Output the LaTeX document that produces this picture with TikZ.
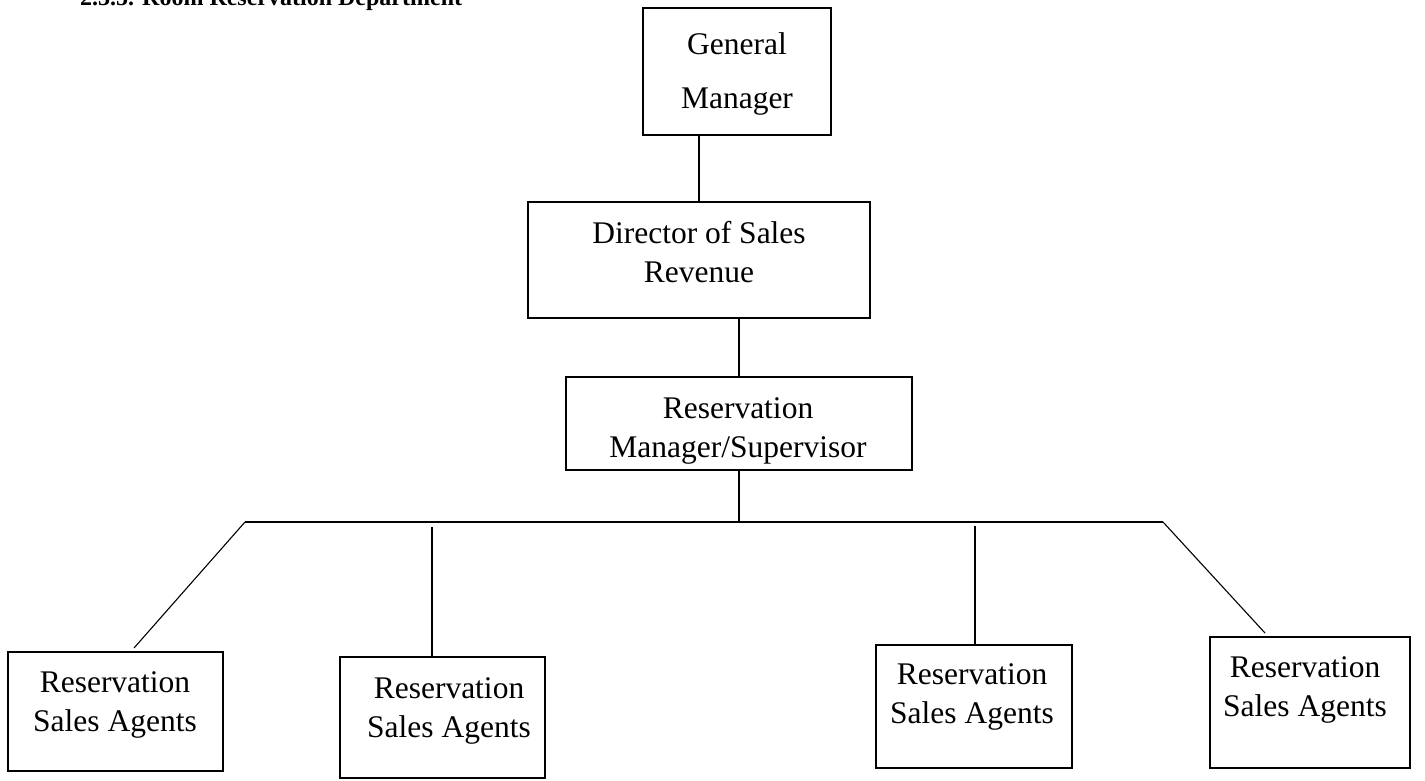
\documentclass[tikz,border=0pt]{standalone}
\usepackage{fontspec}
\setmainfont{Liberation Serif}
\begin{document}
\begin{tikzpicture}[x=1pt,y=-1pt,
  orgbox/.style={draw, line width=1.3pt, inner sep=0pt},
  link/.style={line width=1.1pt},
  caption/.style={font=\fontsize{31.5}{38.5}\selectfont, align=center, inner sep=0pt, anchor=base},
  heading/.style={font=\fontsize{24}{24}\selectfont\bfseries, inner sep=0pt, anchor=base west}]
\useasboundingbox (0,0) rectangle (1425,780);
\clip (0,0) rectangle (1425,780);
\fill[white] (0,0) rectangle (1425,780);

% section heading, running off the top edge
\node[heading] (title) at (80,5) {2.3.5. Room Reservation Department};

% boxes
\node[orgbox, minimum width=188pt, minimum height=127pt] (gm)  at (737,71.5) {};
\node[orgbox, minimum width=342pt, minimum height=116pt] (dir) at (699,260) {};
\node[orgbox, minimum width=346pt, minimum height=93pt]  (rm)  at (739,423.5) {};
\node[orgbox, minimum width=215pt, minimum height=119pt] (a1)  at (115.5,711.5) {};
\node[orgbox, minimum width=205pt, minimum height=121pt] (a2)  at (442.5,717.5) {};
\node[orgbox, minimum width=196pt, minimum height=123pt] (a3)  at (974,706.5) {};
\node[orgbox, minimum width=200pt, minimum height=131pt] (a4)  at (1310,702.5) {};

% box captions (placed at the baseline of the last line)
\node[caption, font=\fontsize{31.5}{54}\selectfont] (gmt) at (737,108) {General\\Manager};
\node[caption] (dirt) at (699,282) {Director of Sales\\Revenue};
\node[caption] (rmt)  at (738,457) {Reservation\\Manager/Supervisor};
\node[caption] (a1t)  at (115,731) {Reservation\\Sales Agents};
\node[caption] (a2t)  at (449,737) {Reservation\\Sales Agents};
\node[caption] (a3t)  at (972,723) {Reservation\\Sales Agents};
\node[caption] (a4t)  at (1305,716) {Reservation\\Sales Agents};

% connector points
\coordinate (busL) at (245,522);
\coordinate (busR) at (1163,522);
\coordinate (d1) at (134,648);
\coordinate (d4) at (1265,633);
\coordinate (t2) at (432,527);
\coordinate (t3) at (975,526);

% connectors
\draw[link] (gm.south -| dir.north) -- (dir.north);
\draw[link] (rm.north) -- (rm.north |- dir.south);
\draw[link] (rm.south) -- (rm.south |- busL);
\draw[link] (busL) -- (busR);
\draw[link] (busL) -- (d1);
\draw[link] (t2) -- (t2 |- a2.north);
\draw[link] (t3) -- (t3 |- a3.north);
\draw[link] (busR) -- (d4);
\end{tikzpicture}
\end{document}
